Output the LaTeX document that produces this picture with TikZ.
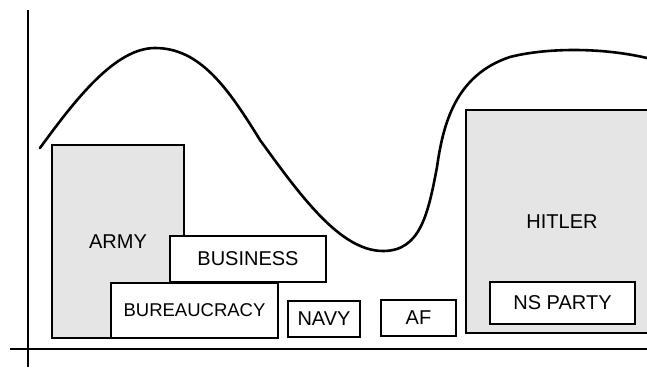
\documentclass[tikz,border=0pt]{standalone}
\usepackage{fontspec}
\setmainfont{Liberation Sans}
\usetikzlibrary{positioning}

\begin{document}
\begin{tikzpicture}[x=1pt,y=-1pt,
					power/.style={draw, line width=2.2pt, inner sep=0pt, font=\fontsize{20}{22}\selectfont},
					shaded/.style={power, fill=gray!20},
					plain/.style={power, fill=white},
					wave/.style={line width=2.6pt, line cap=round}]
	\clip (0,0) rectangle (647,367);
	% axes
	\draw[line width=2.2pt] (28,10) -- (28,367);
	\draw[line width=2.2pt] (10,349) -- (647,349);
	% the curve
	\draw[wave] (40,148) .. controls (75,100) and (115,48) .. (155,48)
		.. controls (200,48) and (228,88) .. (260,140)
		.. controls (300,195) and (340,251) .. (383,251)
		.. controls (420,251) and (428,215) .. (437,167)
		.. controls (443,125) and (455,75) .. (510,57)
		.. controls (545,48) and (600,47) .. (647,58);
	% left group
	\node[shaded, minimum width=132pt, minimum height=193pt] (army) at (118,241.5) {ARMY};
	\node[plain, minimum width=156pt, minimum height=46pt] (business) at (248,259) {BUSINESS};
	\node[plain, minimum width=167pt, minimum height=55pt, font=\fontsize{18.5}{22}\selectfont] (bureaucracy) at (194.5,310.5) {BUREAUCRACY};
	\node[plain, minimum width=72pt, minimum height=36pt] (navy) at (324,319) {NAVY};
	\node[plain, minimum width=75pt, minimum height=36pt] (af) at (418.5,318) {AF};
	% right group
	\node[shaded, minimum width=192pt, minimum height=223pt] (hitler) at (562,221.5) {HITLER};
	\node[plain, minimum width=145pt, minimum height=42pt] (party) at (562.5,303) {NS PARTY};
\end{tikzpicture}
\end{document}
